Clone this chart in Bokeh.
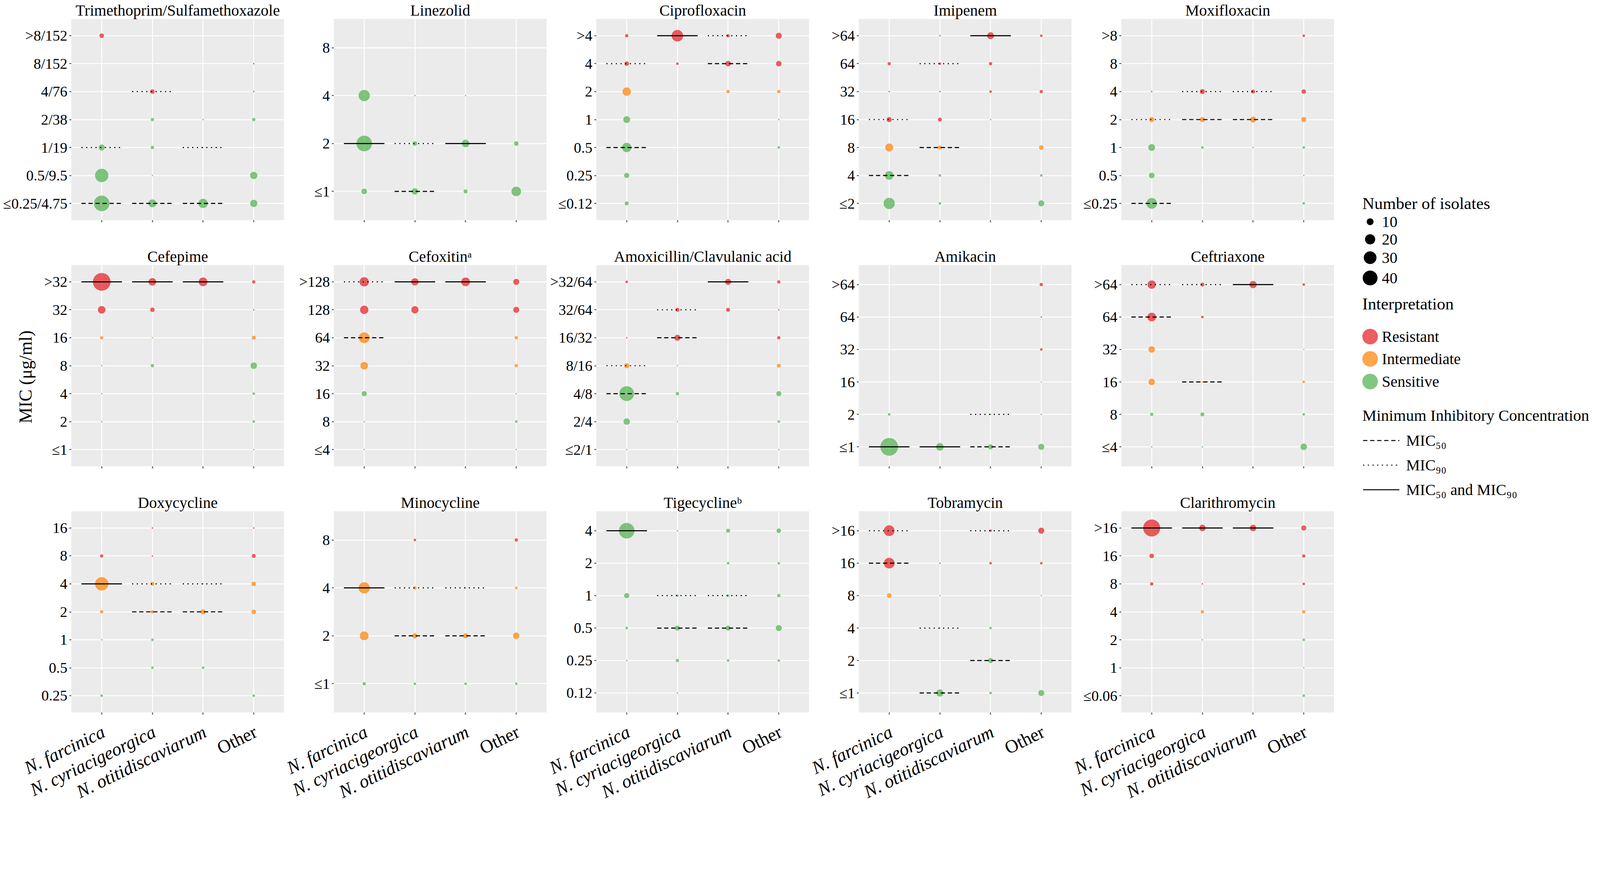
import math
from bokeh.plotting import figure
from bokeh.models import ColumnDataSource, FactorRange, Range1d
from bokeh.transform import dodge
from bokeh.layouts import row, column
from bokeh.embed import file_html
from bokeh.resources import INLINE
from bokeh.core.properties import value

FONT = "Liberation Serif"

# ---------------- data ----------------
species = ["N. farcinica", "N. cyriacigeorgica", "N. otitidiscaviarum", "Other"]
SP = dict(zip("FCOX", species))
interp_names = ["Resistant", "Intermediate", "Sensitive"]
interp_colors = {"R": "#E41A1C", "I": "#FF7F00", "S": "#4DAF4A"}
size_legend = [10, 20, 30, 40]
mic_codes = ["50", "90", "B"]
mic_names = ["MIC₅₀", "MIC₉₀", "MIC₅₀ and MIC₉₀"]

# (species, MIC level, number of isolates, interpretation)
tmp_levels = ["≤0.25/4.75", "0.5/9.5", "1/19", "2/38", "4/76", "8/152", ">8/152"]
tmp_points = [("F", ">8/152", 5, "R"), ("F", "1/19", 8, "S"), ("F", "0.5/9.5", 33, "S"), ("F", "≤0.25/4.75", 44, "S"),
              ("C", "4/76", 5, "R"), ("C", "2/38", 3, "S"), ("C", "1/19", 3, "S"), ("C", "0.5/9.5", 1, "S"), ("C", "≤0.25/4.75", 13, "S"),
              ("O", "2/38", 1, "S"), ("O", "1/19", 1, "S"), ("O", "≤0.25/4.75", 17, "S"),
              ("X", "8/152", 1, "R"), ("X", "4/76", 1, "R"), ("X", "2/38", 3, "S"), ("X", "0.5/9.5", 11, "S"), ("X", "≤0.25/4.75", 11, "S")]
tmp_mic = [("F", "1/19", "90"), ("F", "≤0.25/4.75", "50"), ("C", "4/76", "90"), ("C", "≤0.25/4.75", "50"),
           ("O", "1/19", "90"), ("O", "≤0.25/4.75", "50")]

lzd_levels = ["≤1", "2", "4", "8"]
lzd_points = [("F", "4", 24, "S"), ("F", "2", 44, "S"), ("F", "≤1", 7, "S"),
              ("C", "4", 1, "S"), ("C", "2", 5, "S"), ("C", "≤1", 9, "S"),
              ("O", "4", 1, "S"), ("O", "2", 12, "S"), ("O", "≤1", 4, "S"),
              ("X", "2", 5, "S"), ("X", "≤1", 18, "S")]
lzd_mic = [("F", "2", "B"), ("C", "2", "90"), ("C", "≤1", "50"), ("O", "2", "B")]

cip_levels = ["≤0.12", "0.25", "0.5", "1", "2", "4", ">4"]
cip_points = [("F", ">4", 3, "R"), ("F", "4", 5, "R"), ("F", "2", 14, "I"), ("F", "1", 10, "S"), ("F", "0.5", 17, "S"), ("F", "0.25", 6, "S"), ("F", "≤0.12", 4, "S"),
              ("C", ">4", 25, "R"), ("C", "4", 2, "R"),
              ("O", ">4", 3, "R"), ("O", "4", 7, "R"), ("O", "2", 3, "I"),
              ("X", ">4", 8, "R"), ("X", "4", 7, "R"), ("X", "2", 3, "I"), ("X", "1", 1, "S"), ("X", "0.5", 2, "S")]
cip_mic = [("F", "4", "90"), ("F", "0.5", "50"), ("C", ">4", "B"), ("O", ">4", "90"), ("O", "4", "50")]

ipm_levels = ["≤2", "4", "8", "16", "32", "64", ">64"]
ipm_points = [("F", "64", 3, "R"), ("F", "32", 1, "R"), ("F", "16", 6, "R"), ("F", "8", 13, "I"), ("F", "4", 15, "S"), ("F", "≤2", 24, "S"),
              ("C", ">64", 1, "R"), ("C", "64", 2, "R"), ("C", "32", 1, "R"), ("C", "16", 4, "R"), ("C", "8", 4, "I"), ("C", "4", 2, "S"), ("C", "≤2", 2, "S"),
              ("O", ">64", 10, "R"), ("O", "64", 3, "R"), ("O", "32", 2, "R"), ("O", "16", 1, "S"),
              ("X", ">64", 2, "R"), ("X", "32", 3, "R"), ("X", "8", 5, "I"), ("X", "4", 2, "S"), ("X", "≤2", 8, "S")]
ipm_mic = [("F", "16", "90"), ("F", "4", "50"), ("C", "64", "90"), ("C", "8", "50"), ("O", ">64", "B")]

mxf_levels = ["≤0.25", "0.5", "1", "2", "4", "8", ">8"]
mxf_points = [("F", "4", 1, "R"), ("F", "2", 6, "I"), ("F", "1", 10, "S"), ("F", "0.5", 7, "S"), ("F", "≤0.25", 22, "S"),
              ("C", "4", 6, "R"), ("C", "2", 6, "I"), ("C", "1", 2, "S"),
              ("O", "4", 4, "R"), ("O", "2", 8, "I"), ("O", "1", 1, "S"),
              ("X", ">8", 2, "R"), ("X", "4", 5, "R"), ("X", "2", 6, "I"), ("X", "1", 2, "S"), ("X", "0.5", 1, "S"), ("X", "≤0.25", 2, "S")]
mxf_mic = [("F", "2", "90"), ("F", "≤0.25", "50"), ("C", "4", "90"), ("C", "2", "50"), ("O", "4", "90"), ("O", "2", "50")]

fep_levels = ["≤1", "2", "4", "8", "16", "32", ">32"]
fep_points = [("F", ">32", 56, "R"), ("F", "32", 12, "R"), ("F", "16", 3, "I"), ("F", "8", 1, "S"), ("F", "4", 1, "S"), ("F", "2", 1, "S"),
              ("C", ">32", 12, "R"), ("C", "32", 5, "R"), ("C", "16", 1, "I"), ("C", "8", 3, "S"),
              ("O", ">32", 15, "R"),
              ("X", ">32", 3, "R"), ("X", "32", 1, "R"), ("X", "16", 4, "I"), ("X", "8", 9, "S"), ("X", "4", 2, "S"), ("X", "2", 2, "S"), ("X", "≤1", 1, "S")]
fep_mic = [("F", ">32", "B"), ("C", ">32", "B"), ("O", ">32", "B")]

fox_levels = ["≤4", "8", "16", "32", "64", "128", ">128"]
fox_points = [("F", ">128", 17, "R"), ("F", "128", 14, "R"), ("F", "64", 22, "I"), ("F", "32", 12, "I"), ("F", "16", 6, "S"), ("F", "8", 1, "S"), ("F", "≤4", 1, "S"),
              ("C", ">128", 11, "R"), ("C", "128", 11, "R"),
              ("O", ">128", 15, "R"),
              ("X", ">128", 8, "R"), ("X", "128", 8, "R"), ("X", "64", 3, "I"), ("X", "32", 3, "I"), ("X", "16", 1, "S"), ("X", "8", 2, "S"), ("X", "≤4", 1, "S")]
fox_mic = [("F", ">128", "90"), ("F", "64", "50"), ("C", ">128", "B"), ("O", ">128", "B")]

amc_levels = ["≤2/1", "2/4", "4/8", "8/16", "16/32", "32/64", ">32/64"]
amc_points = [("F", ">32/64", 2, "R"), ("F", "16/32", 1, "R"), ("F", "8/16", 6, "I"), ("F", "4/8", 40, "S"), ("F", "2/4", 9, "S"), ("F", "≤2/1", 1, "S"),
              ("C", "32/64", 4, "R"), ("C", "16/32", 8, "R"), ("C", "8/16", 1, "I"), ("C", "4/8", 3, "S"), ("C", "2/4", 1, "S"),
              ("O", ">32/64", 8, "R"), ("O", "32/64", 4, "R"),
              ("X", ">32/64", 3, "R"), ("X", "32/64", 1, "R"), ("X", "16/32", 3, "R"), ("X", "8/16", 4, "I"), ("X", "4/8", 6, "S"), ("X", "2/4", 2, "S"), ("X", "≤2/1", 1, "S")]
amc_mic = [("F", "8/16", "90"), ("F", "4/8", "50"), ("C", "32/64", "90"), ("C", "16/32", "50"), ("O", ">32/64", "B")]

amk_levels = ["≤1", "2", "16", "32", "64", ">64"]
amk_points = [("F", "≤1", 56, "S"), ("F", "2", 2, "S"),
              ("C", "≤1", 12, "S"),
              ("O", "2", 1, "S"), ("O", "≤1", 6, "S"),
              ("X", ">64", 3, "R"), ("X", "64", 1, "R"), ("X", "32", 2, "R"), ("X", "16", 1, "I"), ("X", "2", 1, "S"), ("X", "≤1", 8, "S")]
amk_mic = [("F", "≤1", "B"), ("C", "≤1", "B"), ("O", "2", "90"), ("O", "≤1", "50")]

cro_levels = ["≤4", "8", "16", "32", "64", ">64"]
cro_points = [("F", ">64", 14, "R"), ("F", "64", 15, "R"), ("F", "32", 9, "I"), ("F", "16", 9, "I"), ("F", "8", 3, "S"), ("F", "≤4", 1, "S"),
              ("C", ">64", 4, "R"), ("C", "64", 2, "R"), ("C", "16", 1, "I"), ("C", "8", 4, "S"), ("C", "≤4", 1, "S"),
              ("O", ">64", 11, "R"),
              ("X", ">64", 2, "R"), ("X", "32", 1, "I"), ("X", "16", 2, "I"), ("X", "8", 2, "S"), ("X", "≤4", 9, "S")]
cro_mic = [("F", ">64", "90"), ("F", "64", "50"), ("C", ">64", "90"), ("C", "16", "50"), ("O", ">64", "B")]

dox_levels = ["0.25", "0.5", "1", "2", "4", "8", "16"]
dox_points = [("F", "8", 3, "R"), ("F", "4", 33, "I"), ("F", "2", 3, "I"), ("F", "1", 1, "S"), ("F", "0.25", 2, "S"),
              ("C", "16", 1, "R"), ("C", "8", 1, "R"), ("C", "4", 4, "I"), ("C", "2", 3, "I"), ("C", "1", 2, "S"), ("C", "0.5", 2, "S"),
              ("O", "4", 1, "I"), ("O", "2", 6, "I"), ("O", "0.5", 2, "S"),
              ("X", "16", 1, "R"), ("X", "8", 4, "R"), ("X", "4", 5, "I"), ("X", "2", 5, "I"), ("X", "0.25", 2, "S")]
dox_mic = [("F", "4", "B"), ("C", "4", "90"), ("C", "2", "50"), ("O", "4", "90"), ("O", "2", "50")]

min_levels = ["≤1", "2", "4", "8"]
min_points = [("F", "4", 24, "I"), ("F", "2", 15, "I"), ("F", "≤1", 3, "S"),
              ("C", "8", 2, "R"), ("C", "4", 3, "I"), ("C", "2", 6, "I"), ("C", "≤1", 2, "S"),
              ("O", "4", 1, "I"), ("O", "2", 6, "I"), ("O", "≤1", 2, "S"),
              ("X", "8", 3, "R"), ("X", "4", 2, "I"), ("X", "2", 9, "I"), ("X", "≤1", 2, "S")]
min_mic = [("F", "4", "B"), ("C", "4", "90"), ("C", "2", "50"), ("O", "4", "90"), ("O", "2", "50")]

tgc_levels = ["0.12", "0.25", "0.5", "1", "2", "4"]
tgc_points = [("F", "4", 44, "S"), ("F", "1", 6, "S"), ("F", "0.5", 2, "S"), ("F", "0.25", 1, "S"),
              ("C", "4", 1, "S"), ("C", "1", 2, "S"), ("C", "0.5", 6, "S"), ("C", "0.25", 3, "S"), ("C", "0.12", 1, "S"),
              ("O", "4", 4, "S"), ("O", "2", 2, "S"), ("O", "1", 2, "S"), ("O", "0.5", 6, "S"), ("O", "0.25", 2, "S"),
              ("X", "4", 5, "S"), ("X", "2", 2, "S"), ("X", "1", 3, "S"), ("X", "0.5", 8, "S"), ("X", "0.25", 2, "S")]
tgc_mic = [("F", "4", "B"), ("C", "1", "90"), ("C", "0.5", "50"), ("O", "1", "90"), ("O", "0.5", "50")]

tob_levels = ["≤1", "2", "4", "8", "16", ">16"]
tob_points = [("F", ">16", 22, "R"), ("F", "16", 22, "R"), ("F", "8", 5, "I"),
              ("C", "16", 1, "R"), ("C", "8", 1, "I"), ("C", "4", 1, "S"), ("C", "≤1", 11, "S"),
              ("O", ">16", 2, "R"), ("O", "16", 2, "R"), ("O", "4", 2, "S"), ("O", "2", 6, "S"), ("O", "≤1", 2, "S"),
              ("X", ">16", 8, "R"), ("X", "16", 2, "R"), ("X", "8", 1, "I"), ("X", "≤1", 8, "S")]
tob_mic = [("F", ">16", "90"), ("F", "16", "50"), ("C", "4", "90"), ("C", "≤1", "50"), ("O", ">16", "90"), ("O", "2", "50")]

clr_levels = ["≤0.06", "1", "2", "4", "8", "16", ">16"]
clr_points = [("F", ">16", 52, "R"), ("F", "16", 5, "R"), ("F", "8", 3, "R"),
              ("C", ">16", 9, "R"), ("C", "8", 1, "R"), ("C", "4", 3, "I"), ("C", "2", 1, "S"),
              ("O", ">16", 9, "R"),
              ("X", ">16", 6, "R"), ("X", "16", 3, "R"), ("X", "8", 2, "R"), ("X", "4", 3, "I"), ("X", "2", 2, "S"), ("X", "1", 1, "S"), ("X", "≤0.06", 2, "S")]
clr_mic = [("F", ">16", "B"), ("C", ">16", "B"), ("O", ">16", "B")]

drug_titles = ["Trimethoprim/Sulfamethoxazole", "Linezolid", "Ciprofloxacin", "Imipenem", "Moxifloxacin",
               "Cefepime", "Cefoxitinᵃ", "Amoxicillin/Clavulanic acid", "Amikacin", "Ceftriaxone",
               "Doxycycline", "Minocycline", "Tigecyclineᵇ", "Tobramycin", "Clarithromycin"]
drug_levels = [tmp_levels, lzd_levels, cip_levels, ipm_levels, mxf_levels, fep_levels, fox_levels, amc_levels,
               amk_levels, cro_levels, dox_levels, min_levels, tgc_levels, tob_levels, clr_levels]
drug_points = [tmp_points, lzd_points, cip_points, ipm_points, mxf_points, fep_points, fox_points, amc_points,
               amk_points, cro_points, dox_points, min_points, tgc_points, tob_points, clr_points]
drug_mics = [tmp_mic, lzd_mic, cip_mic, ipm_mic, mxf_mic, fep_mic, fox_mic, amc_mic,
             amk_mic, cro_mic, dox_mic, min_mic, tgc_mic, tob_mic, clr_mic]

# ---------------- style / geometry (CSS px) ----------------
S = 0.9025
FW, FH = 545, 515
PITCH_X = 672
LEFT0 = 182
T_FIRST, T_OTHER = 48, 58
B_MID, B_LAST = 57, 8
LAB_H = 240
LEG_W = 660
BG = "#EBEBEB"
ALPHA = 0.7
LW = 2.7
DASH = {"50": "11 7", "90": "3 9", "B": "solid"}


def bubble_size(n):
    return 1.05 * S * (-2.77 + 6.77 * math.sqrt(n))


def make_panel(idx):
    r, c = divmod(idx, 5)
    levels = drug_levels[idx]
    L = LEFT0 if c == 0 else PITCH_X - FW
    T = T_FIRST if r == 0 else T_OTHER
    B = B_MID if r < 2 else B_LAST
    xr = FactorRange(factors=species, range_padding=0.05, range_padding_units="percent")
    yr = FactorRange(factors=levels, range_padding=0.2 / len(levels), range_padding_units="percent")
    p = figure(x_range=xr, y_range=yr, frame_width=FW, frame_height=FH,
               min_border_left=L, min_border_right=0, min_border_top=T, min_border_bottom=B,
               toolbar_location=None, output_backend="svg", title=drug_titles[idx],
               background_fill_color=BG, border_fill_color="white", outline_line_color=None)
    p.title.text_font = FONT
    p.title.text_font_size = "40px"
    p.title.text_font_style = "normal"
    p.title.text_color = "black"
    p.title.align = "center"
    p.title.standoff = 0
    p.title.text_line_height = 0.8

    p.grid.grid_line_color = "white"
    p.grid.grid_line_width = 2.5
    p.axis.axis_line_color = None
    p.axis.major_tick_line_color = "#333333"
    p.axis.major_tick_line_width = 2
    p.axis.major_tick_out = 5
    p.axis.major_tick_in = 0
    # x tick labels are drawn once, under the bottom row, by the label strip
    p.xaxis.major_label_overrides = {s: "" for s in species}
    p.xaxis.major_label_text_font_size = "1px"
    p.xaxis.major_label_standoff = 0
    p.yaxis.major_label_text_font = FONT
    p.yaxis.major_label_text_font_size = "38px"
    p.yaxis.major_label_text_color = "black"
    p.yaxis.major_label_standoff = 5

    pts = drug_points[idx]
    src = ColumnDataSource(dict(
        x=[SP[s] for s, _, _, _ in pts],
        y=[lv for _, lv, _, _ in pts],
        n=[n for _, _, n, _ in pts],
        size=[bubble_size(n) for _, _, n, _ in pts],
        color=[interp_colors[k] for _, _, _, k in pts],
    ))
    p.scatter("x", "y", size="size", fill_color="color", fill_alpha=ALPHA, line_color=None, source=src)

    for code in mic_codes:
        rows_ = [(s, lv) for s, lv, k in drug_mics[idx] if k == code]
        if not rows_:
            continue
        msrc = ColumnDataSource(dict(x=[SP[s] for s, _ in rows_], y=[lv for _, lv in rows_]))
        p.segment(x0=dodge("x", -0.4, range=xr), y0="y", x1=dodge("x", 0.4, range=xr), y1="y",
                  source=msrc, line_color="black", line_width=LW, line_dash=DASH[code])

    if idx == 5:
        p.yaxis.axis_label = "MIC (μg/ml)" + "\u00a0" * 5
        p.yaxis.axis_label_text_font = FONT
        p.yaxis.axis_label_text_font_size = "46px"
        p.yaxis.axis_label_text_font_style = "normal"
        p.yaxis.axis_label_text_color = "black"
        p.yaxis.axis_label_standoff = 19
    return p


def make_xlabels(c):
    L = LEFT0 if c == 0 else PITCH_X - FW
    W = L + FW
    per = 4.2 / FW
    q = figure(x_range=Range1d(-0.1 - L * per, 4.1), y_range=Range1d(LAB_H, 0), width=W, height=LAB_H,
               min_border=0, toolbar_location=None, output_backend="svg", x_axis_type=None, y_axis_type=None,
               outline_line_color=None, background_fill_color="white", border_fill_color="white")
    q.grid.visible = False
    xs = [i + 0.45 for i in range(len(species))]
    ang = math.radians(26)
    q.text(x=xs[:3], y=[14] * 3, text=species[:3], angle=ang, text_align="right", text_baseline="top",
           text_font=value(FONT), text_font_size="47px", text_font_style="italic", text_color="black")
    q.text(x=xs[3:], y=[14], text=species[3:], angle=ang, text_align="right", text_baseline="top",
           text_font=value(FONT), text_font_size="47px", text_font_style="normal", text_color="black")
    return q


panels = [make_panel(i) for i in range(15)]
grid_rows = [row(*panels[r * 5:(r + 1) * 5]) for r in range(3)]
label_row = row(*[make_xlabels(c) for c in range(5)])

TOTAL_H = 2060
lg = figure(x_range=Range1d(0, LEG_W), y_range=Range1d(TOTAL_H, 0), width=LEG_W, height=TOTAL_H, min_border=0,
            toolbar_location=None, output_backend="svg", x_axis_type=None, y_axis_type=None,
            outline_line_color=None, background_fill_color="white", border_fill_color="white")
lg.grid.visible = False

TX = 72
KX = TX + 20
LX = TX + 50


def ltext(x, y, t, size):
    lg.text(x=x, y=y, text=t, text_align="left", text_baseline="middle",
            text_font=value(FONT), text_font_size=size, text_color="black")


# size legend
ltext([TX], [520], ["Number of isolates"], "43px")
size_y = [567, 612, 659, 711]
lg.scatter(x=[KX] * 4, y=size_y, size=[bubble_size(v) for v in size_legend], fill_color="black", line_color=None)
ltext([LX] * 4, size_y, [str(v) for v in size_legend], "40px")

# interpretation legend
ltext([TX], [777], ["Interpretation"], "43px")
int_y = [861, 918, 976]
lg.scatter(x=[KX] * 3, y=int_y, size=40, fill_color=[interp_colors[k] for k in "RIS"], fill_alpha=ALPHA,
           line_color=None)
ltext([LX] * 3, int_y, interp_names, "40px")

# MIC legend
ltext([TX], [1062], ["Minimum Inhibitory Concentration"], "41px")
mic_y = [1127, 1190, 1253]
for code, yy in zip(mic_codes, mic_y):
    lg.segment(x0=[TX + 2], y0=[yy], x1=[TX + 95], y1=[yy], line_color="black", line_width=LW,
               line_dash=DASH[code])
ltext([TX + 112] * 3, mic_y, mic_names, "40px")

layout = row(column(*grid_rows, label_row), lg)
open("out.html", "w").write(file_html(layout, INLINE))
